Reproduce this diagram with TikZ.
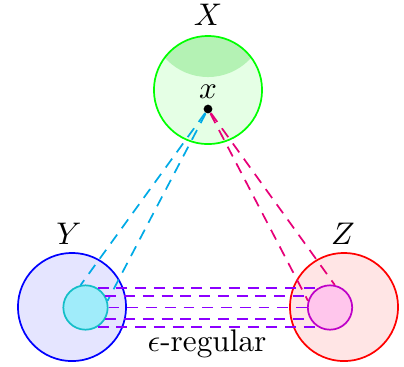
\documentclass[tikz,border=0pt]{standalone}
\definecolor{ycin}{RGB}{160,236,250}
\definecolor{ycbd}{RGB}{20,190,200}
\definecolor{zmin}{RGB}{255,198,236}
\definecolor{zmbd}{RGB}{190,0,200}
\definecolor{lcy}{RGB}{0,170,230}
\definecolor{lpk}{RGB}{230,0,120}
\definecolor{lvi}{RGB}{140,0,255}
\definecolor{capg}{RGB}{180,242,180}
\begin{document}
\begin{tikzpicture}[x=0.32pt,y=-0.32pt,
  big/.style={circle,inner sep=0pt,minimum size=34.6pt,line width=0.55pt},
  small/.style={circle,inner sep=0pt,minimum size=14.2pt,line width=0.55pt},
  dline/.style={dash pattern=on 3.5pt off 2.5pt,line width=0.55pt}]
\useasboundingbox (0,0) rectangle (404,366);
% X
\fill[green!10] (208,90) circle[radius=54];
\begin{scope}
  \clip (208,90) circle[radius=54];
  \fill[capg] (208,19) circle[radius=58];
\end{scope}
\node[big,draw=green] (X) at (208,90) {};
\node (XL) at (208,15) {$X$};
\node (xl) at (208,92) {$x$};
% Y and Z
\node[big,draw=blue,fill=blue!10] (Y) at (72,307) {};
\node[big,draw=red,fill=red!10] (Z) at (344,307) {};
\node (YL) at (69,234) {$Y$};
\node (ZL) at (343,234) {$Z$};
\node[small,draw=ycbd,fill=ycin] (ys) at (85.5,307.5) {};
\node[small,draw=zmbd,fill=zmin] (zs) at (330,307.5) {};
% point x
\node[circle,fill=black,inner sep=0pt,minimum size=2.8pt] (xp) at (208,109) {};
% connectors
\draw[dline,draw=lcy] (xp) -- (ys.102);
\draw[dline,draw=lcy] (xp) -- (ys.17);
\draw[dline,draw=lpk] (xp) -- (zs.78);
\draw[dline,draw=lpk] (xp) -- (zs.163);
\draw[dline,draw=lvi] (ys.58) -- (zs.122);
\draw[dline,draw=lvi] (ys.30) -- (zs.150);
\draw[dline,draw=lvi] (ys.east) -- (zs.west);
\draw[dline,draw=lvi] (ys.330) -- (zs.210);
\draw[dline,draw=lvi] (ys.302) -- (zs.238);
\node (eps) at (207,344) {$\epsilon$-regular};
\end{tikzpicture}
\end{document}
